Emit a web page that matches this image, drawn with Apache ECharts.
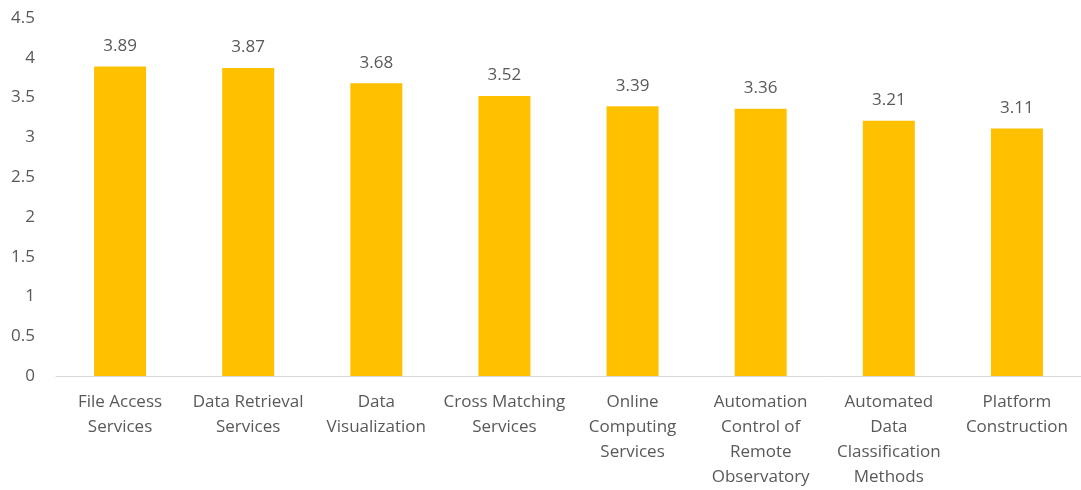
<!DOCTYPE html>
<html>
<head>
<meta charset="utf-8">
<script src="https://cdn.jsdelivr.net/npm/echarts@6/dist/echarts.min.js"></script>
<style>
html,body{margin:0;padding:0;background:#fff;}
#chart{width:1081px;height:490px;}
</style>
</head>
<body>
<div id="chart"></div>
<script>
var categories = [
  "File Access\nServices",
  "Data Retrieval\nServices",
  "Data\nVisualization",
  "Cross Matching\nServices",
  "Online\nComputing\nServices",
  "Automation\nControl of\nRemote\nObservatory",
  "Automated\nData\nClassification\nMethods",
  "Platform\nConstruction"
];
var values = [3.89, 3.87, 3.68, 3.52, 3.39, 3.36, 3.21, 3.11];
var yTicks = { min: 0, max: 4.5, interval: 0.5 };

var font = "'Open Sans', sans-serif";
var chart = echarts.init(document.getElementById('chart'));
chart.setOption({
  animation: false,
  grid: { left: 56, top: 18, width: 1028, bottom: 114, containLabel: false },
  xAxis: {
    type: 'category',
    data: categories,
    axisLine: { lineStyle: { color: '#d9d9d9', width: 1 } },
    axisTick: { show: false },
    axisLabel: {
      interval: 0,
      color: '#595959',
      fontFamily: font,
      fontSize: 17,
      lineHeight: 25,
      margin: 14
    }
  },
  yAxis: {
    type: 'value',
    min: yTicks.min,
    max: yTicks.max,
    interval: yTicks.interval,
    axisLine: { show: false },
    axisTick: { show: false },
    splitLine: { show: false },
    axisLabel: {
      color: '#595959',
      fontFamily: font,
      fontSize: 17,
      margin: 21
    }
  },
  series: [{
    type: 'bar',
    data: values,
    barWidth: 52,
    itemStyle: { color: '#FFC000' },
    label: {
      show: true,
      position: 'top',
      distance: 12,
      color: '#595959',
      fontFamily: font,
      fontSize: 17
    }
  }]
});
</script>
</body>
</html>
